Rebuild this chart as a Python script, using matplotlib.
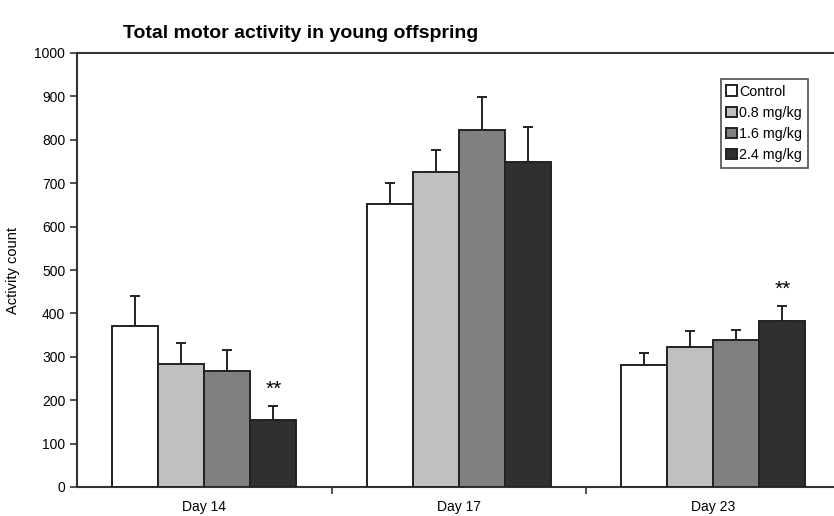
import matplotlib.pyplot as plt
import numpy as np

plt.rcParams['font.family'] = ['Liberation Sans', 'DejaVu Sans']

days = ["Day 14", "Day 17", "Day 23"]
groups = ["Control", "0.8 mg/kg", "1.6 mg/kg", "2.4 mg/kg"]
colors = ["#ffffff", "#c0c0c0", "#808080", "#303030"]

# mean activity count per group, one value per day
control = [371, 653, 280]
dose_08 = [284, 725, 323]
dose_16 = [268, 823, 339]
dose_24 = [154, 748, 382]
means = [control, dose_08, dose_16, dose_24]

# upper error (SEM)
err_control = [70, 47, 28]
err_08 = [48, 51, 36]
err_16 = [48, 75, 23]
err_24 = [33, 82, 36]
errors = [err_control, err_08, err_16, err_24]

# significance marks: (day index, group index)
stars = [(0, 3), (2, 3)]

fig = plt.figure(figsize=(8.34, 5.16), dpi=100)
ax = fig.add_axes([77 / 834, 29 / 516, 763.5 / 834, 434 / 516])

x = np.arange(len(days))
w = 0.181
offsets = (np.arange(len(groups)) - 1.5) * w
for i in range(len(groups)):
    ax.bar(x + offsets[i], means[i], width=w, color=colors[i], edgecolor="#222222",
           linewidth=1.4, label=groups[i], zorder=3)
    ax.errorbar(x + offsets[i], means[i], yerr=[np.zeros(len(days)), errors[i]],
                fmt="none", ecolor="#222222", elinewidth=1.4, capsize=3.5,
                capthick=1.4, zorder=2)

for d, g in stars:
    top = means[g][d] + errors[g][d]
    ax.text(x[d] + offsets[g], top + 16, "**", ha="center", va="bottom", fontsize=15)

ax.set_xlim(-0.5, 2.5)
ax.set_ylim(0, 1000)
ax.set_yticks(np.arange(0, 1001, 100))
ax.set_xticks(x)
ax.set_xticklabels(days, fontsize=10)
ax.set_xticks([0.5, 1.5], minor=True)
ax.tick_params(axis="x", which="major", length=0, pad=9)
ax.tick_params(axis="x", which="minor", length=5, width=1.2, color="#333333")
ax.tick_params(axis="y", length=5, width=1.2, color="#333333", labelsize=10)
ax.set_ylabel("Activity count", fontsize=10.5, labelpad=10)

for s in ["left", "bottom", "top"]:
    ax.spines[s].set_linewidth(1.5)
    ax.spines[s].set_color("#333333")
ax.spines["right"].set_visible(False)

leg = ax.legend(loc="upper right", bbox_to_anchor=(731 / 763.5, 1 - 26 / 434),
                fontsize=10.3, frameon=True, fancybox=False, handlelength=0.75,
                handleheight=0.75, handletextpad=0.15, borderpad=0.4, labelspacing=0.5,
                borderaxespad=0)
leg.get_frame().set_edgecolor("#222222")
leg.get_frame().set_linewidth(1.2)

fig.text(123 / 834, 1 - 34 / 516, "Total motor activity in young offspring",
         fontsize=14, fontweight="bold", va="center", ha="left")

fig.savefig("out.png", dpi=100)
